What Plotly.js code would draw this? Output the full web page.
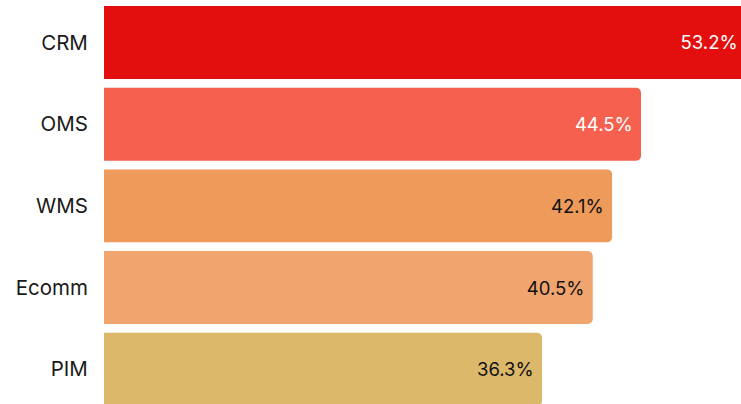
<!DOCTYPE html>
<html>
<head>
<meta charset="utf-8">
<script src="https://cdn.plot.ly/plotly-3.0.1.min.js"></script>
<style>
html,body{margin:0;padding:0;overflow:hidden;background:#fff;width:741px;height:404px;}
#chart{width:746px;height:404px;}
</style>
</head>
<body>
<div id="chart"></div>
<script>
const categories = ["CRM", "OMS", "WMS", "Ecomm", "PIM"];
const values = [53.2, 44.5, 42.1, 40.5, 36.3];
const barColors = ["#e30e0e", "#f5604f", "#ed9a5a", "#f0a46e", "#dcb86a"];
const labelColors = ["#ffffff", "#ffffff", "#111111", "#111111", "#111111"];

const trace = {
  type: "bar",
  orientation: "h",
  y: categories,
  x: values,
  marker: {color: barColors, line: {width: 0}},
  width: 0.893,
  text: values.map(v => v.toFixed(1) + "%\u2009"),
  textposition: "inside",
  insidetextanchor: "end",
  textfont: {family: "Inter, sans-serif", size: 18.5, color: labelColors},
  hoverinfo: "none",
  cliponaxis: true
};

const layout = {
  width: 746,
  height: 404,
  margin: {l: 104, r: 0, t: 0, b: 0, pad: 0},
  paper_bgcolor: "#ffffff",
  plot_bgcolor: "#ffffff",
  showlegend: false,
  barcornerradius: 5,
  xaxis: {
    range: [0, 53.2],
    visible: false,
    showgrid: false,
    zeroline: false,
    fixedrange: true
  },
  yaxis: {
    type: "category",
    categoryorder: "array",
    categoryarray: categories,
    range: [4.425, -0.52],
    autorange: false,
    showgrid: false,
    zeroline: false,
    showline: false,
    ticks: "outside",
    ticklen: 11,
    tickcolor: "rgba(0,0,0,0)",
    tickfont: {family: "Inter, sans-serif", size: 20.5, color: "#1a1a1a"},
    fixedrange: true
  }
};

Plotly.newPlot("chart", [trace], layout, {displayModeBar: false, staticPlot: true});
</script>
</body>
</html>
